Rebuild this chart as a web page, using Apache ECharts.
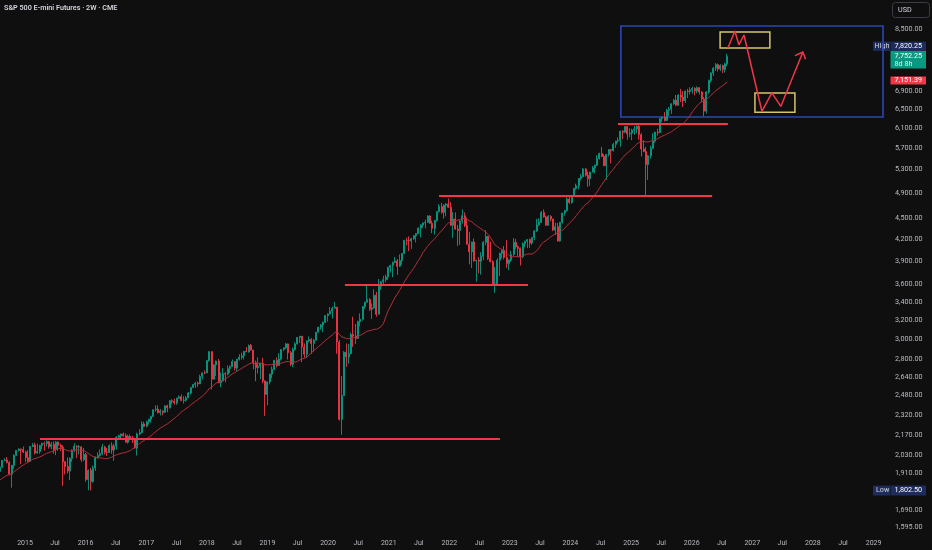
<!DOCTYPE html>
<html><head><meta charset="utf-8">
<script src="https://cdn.jsdelivr.net/npm/echarts@6/dist/echarts.min.js"></script>
<style>html,body{margin:0;padding:0;background:#0f0f0f;}#c{width:932px;height:550px;}</style>
</head><body><div id="c"></div>
<script>
// ---- data (2-week ES futures bars) ----
const firstBar = [2014, 8, 4];      // first visible bar
const barDays = 14;
const maPeriod = 20;
// closes of the 19 bars before the first visible bar (only feed the moving average)
const maWarmupCloses = [1800,1800,1815,1825,1833,1775,1834,1855,1836,1850,1810,1855,1872,1895,1945,1958,1980,1972,1922];
const firstOpen = 1922;
const closes = [
1950,1995,1998,1980,1905,1962,2030,2062,2073,2068,2052,
2013,1988,2090,2100,2045,2055,2098,2112,2110,2124,2088,2106,2070,2122,2098,2085,1985,1955,1925,2008,2065,2093,2086,2088,2000,2035,
1870,1930,1858,1945,2015,2028,2040,2087,2050,2048,2096,2065,2094,2155,2168,2180,2167,2120,2162,2150,2138,2080,2180,2190,2255,2236,
2272,2290,2312,2365,2370,2342,2355,2345,2396,2380,2438,2432,2420,2458,2470,2440,2442,2462,2502,2548,2574,2587,2580,2645,2677,2676,
2790,2875,2620,2750,2785,2590,2605,2670,2665,2715,2735,2780,2720,2802,2820,2835,2877,2872,2935,2890,2770,2725,2740,2765,2605,2490,
2597,2665,2710,2793,2745,2805,2896,2912,2950,2865,2755,2895,2950,3015,3028,2920,2850,2980,2995,2955,2987,3068,3120,3145,3172,3245,
3263,3293,3325,3338,2970,2290,2480,2870,2825,2855,3045,3030,3005,3180,3205,3345,3395,3425,3315,3330,3475,3260,3580,3635,3660,3695,3815,
3840,3880,3900,3830,3905,4000,4180,4175,4170,4200,4245,4275,4355,4400,4430,4440,4535,4425,4350,4465,4600,4680,4590,4705,4720,4670,
4395,4490,4340,4320,4460,4540,4390,4125,4020,4155,3900,3910,3895,3960,4150,4235,3930,3890,3610,3610,3910,4000,4040,3945,3865,3910,
3985,4150,4090,4065,3955,4130,4165,4190,4140,4220,4310,4400,4440,4590,4520,4395,4530,4490,4325,4375,4170,4440,4580,4615,4800,4745,
4860,4975,5020,5145,5175,5310,5200,5140,5255,5330,5375,5500,5595,5540,5370,5575,5670,5650,5770,5835,5845,6030,6010,6125,5975,5990,
6050,6075,6130,5960,5680,5630,5390,5550,5690,5830,6010,6000,6290,6320,6250,6470,6490,6610,6690,6580,6810,6760,6680,6900,6890,6930,
6960,6900,6980,6880,6720,6450,6880,7150,7330,7450,7540,7430,7520,7420,7560,7752.25];
const highs = [
1960,1995,2010,2017,1990,1965,2035,2065,2078,2075,2090,
2060,2065,2093,2115,2117,2110,2102,2117,2125,2134,2130,2122,2125,2128,2125,2110,2100,1990,2015,2015,2070,2113,2097,2100,2090,2080,
2045,1935,1945,1960,2020,2050,2070,2108,2095,2080,2105,2120,2110,2165,2175,2183,2190,2185,2175,2175,2165,2150,2190,2215,2275,2272,
2280,2295,2318,2368,2400,2400,2370,2360,2400,2405,2442,2450,2455,2462,2482,2490,2475,2475,2510,2550,2575,2595,2600,2660,2680,2700,
2790,2878,2875,2755,2790,2805,2680,2720,2685,2745,2745,2800,2785,2805,2850,2865,2880,2920,2945,2950,2890,2790,2820,2770,2815,2610,
2600,2670,2735,2795,2820,2860,2900,2915,2960,2955,2880,2915,2965,3020,3030,3030,2955,2985,3025,3010,3000,3070,3125,3155,3180,3250,
3270,3340,3345,3397,3340,2990,2650,2880,2955,2950,3065,3233,3155,3190,3270,3350,3400,3588,3440,3380,3545,3515,3670,3640,3710,3725,3825,
3850,3890,3950,3925,3985,4000,4185,4215,4235,4215,4250,4280,4360,4410,4435,4480,4545,4545,4465,4475,4610,4720,4740,4715,4740,4808,
4750,4595,4590,4400,4470,4635,4590,4510,4300,4160,4205,3910,3950,4015,4170,4325,4240,4160,3910,3820,3935,4010,4055,4100,4180,3920,
4035,4210,4200,4110,4080,4150,4175,4195,4205,4225,4325,4490,4500,4610,4635,4540,4550,4545,4490,4435,4430,4445,4585,4630,4830,4850,
4865,4985,5055,5150,5225,5325,5325,5265,5260,5365,5390,5560,5610,5720,5580,5580,5675,5670,5800,5840,5905,6040,6050,6130,6140,6090,
6080,6140,6150,6166,5990,5850,5720,5570,5740,5990,6020,6080,6300,6335,6430,6500,6540,6620,6720,6810,6830,6950,6900,6910,6950,6990,
7000,6990,7010,6990,6900,6760,6900,7170,7350,7480,7580,7570,7550,7540,7590,7820.25];
const lows = [
1900,1945,1990,1975,1900,1820,1940,2025,2055,1970,2045,
1985,1985,1985,2085,2035,2040,2040,2070,2060,2090,2075,2070,2040,2030,2060,2060,1831,1903,1910,1867,1985,2050,2010,2035,1985,1990,
1857,1804,1802.5,1850,1925,2005,2020,2030,2035,2025,2045,2040,1992,2070,2145,2145,2160,2120,2110,2135,2115,2075,2028,2170,2185,2230,
2230,2250,2265,2310,2350,2335,2320,2321,2340,2345,2375,2410,2405,2405,2455,2435,2415,2430,2460,2490,2545,2545,2555,2578,2620,2665,
2680,2780,2533,2620,2650,2585,2550,2600,2595,2655,2675,2730,2700,2695,2790,2800,2800,2870,2865,2885,2710,2603,2670,2620,2585,2317,
2400,2575,2630,2700,2725,2740,2790,2880,2900,2800,2740,2730,2885,2945,2960,2775,2818,2815,2965,2855,2875,2985,3065,3095,3070,3165,
3180,3260,3212,3325,2855,2280,2174,2480,2730,2760,2850,2920,2950,3005,3130,3190,3320,3390,3295,3209,3320,3233,3260,3540,3610,3630,3660,
3750,3690,3870,3720,3820,3850,3990,4110,4030,4060,4185,4150,4270,4220,4360,4350,4430,4420,4280,4260,4450,4590,4570,4495,4530,4660,
4390,4212,4330,4101,4115,4420,4370,4120,3855,3807,3890,3636,3740,3725,3910,4110,3910,3880,3610,3502,3600,3705,3935,3920,3810,3780,
3885,3960,4060,3950,3840,3935,4080,4070,4075,4115,4180,4300,4390,4430,4510,4390,4390,4455,4310,4255,4160,4160,4420,4540,4600,4725,
4725,4845,4950,4960,5110,5165,5175,5000,5015,5250,5235,5365,5480,5535,5360,5120,5535,5410,5630,5700,5800,5720,5870,5990,5860,5910,
5850,5960,5990,5860,5540,5620,4832,5120,5500,5690,5800,5940,5990,6220,6230,6240,6350,6390,6590,6560,6570,6650,6540,6630,6740,6820,
6840,6800,6850,6820,6650,6340,6400,6840,7100,7260,7380,7370,7380,7330,7340,7500];

// price-scale tick labels and time-axis label years
const yTickLabels = [8500,6900,6500,6100,5700,5300,4900,4500,4200,3900,3600,3400,3200,3000,2800,2640,2480,2320,2170,2030,1910,1690,1595];
const xLabelYears = [2015,2016,2017,2018,2019,2020,2021,2022,2023,2024,2025,2026,2027,2028,2029];

// badge values
const lastPrice = 7752.25, highPrice = 7820.25, lowPrice = 1802.50, maLastValue = 7151.39;
const barCountdown = '8d 8h';

// drawings: support lines [start, end, price]
const supportLines = [
  ['2015-04-01','2022-11-02',2144],
  ['2020-04-12','2023-04-20',3596],
  ['2021-10-31','2026-05-04',4850],
  ['2024-10-13','2026-08-07',6191]
];
const blueBox = [['2024-10-31',8586],['2029-02-27',6324]];
const yellowBoxes = [
  [['2026-06-21',8415],['2027-04-17',7974]],
  [['2027-01-17',6858],['2027-09-15',6425]]
];
const zigzagPath = [['2026-08-07',7974],['2026-09-18',8443],['2026-10-12',8061],['2026-11-12',8330],
  ['2027-02-28',6447],['2027-04-29',6858],['2027-06-22',6553],['2027-11-02',7868]];
const arrowHead = [['2027-09-15',7771],['2027-11-02',7868],['2027-11-18',7677]];

// ---- build ----
function t(s){ const p=s.split('-').map(Number); return new Date(p[0],p[1]-1,p[2]).getTime(); }
function barTime(i){ return new Date(firstBar[0], firstBar[1]-1, firstBar[2] + barDays*i).getTime(); }
const N = Math.min(closes.length, highs.length, lows.length);
const candles = [];
for (let i=0;i<N;i++){
  const o = i===0 ? firstOpen : closes[i-1];
  const c = closes[i];
  candles.push([barTime(i), o, c, Math.min(lows[i],o,c), Math.max(highs[i],o,c)]);
}
const allCloses = maWarmupCloses.concat(closes.slice(0,N));
const maData = [];
for (let i=0;i<N;i++){
  const j = i + maWarmupCloses.length;
  if (j - maPeriod + 1 < 0) continue;
  let s=0; for(let k=j-maPeriod+1;k<=j;k++) s+=allCloses[k];
  maData.push([barTime(i), s/maPeriod]);
}
const xTicks = [];
xLabelYears.forEach(y=>{ xTicks.push(new Date(y,0,1).getTime()); if (y<2029) xTicks.push(new Date(y,6,1).getTime()); });
const fmt = v => Number(v).toLocaleString('en-US',{minimumFractionDigits:2,maximumFractionDigits:2});
const conv = pts => pts.map(p=>[t(p[0]), p[1]]);

const FONT = 'Roboto, "Noto Sans", sans-serif';
const LBL = '#b8bbc3';
const chart = echarts.init(document.getElementById('c'), null, {renderer:'canvas'});
chart.setOption({
  backgroundColor:'#0f0f0f',
  animation:false,
  grid:{left:0,right:43,top:0,bottom:16,containLabel:false,outerBoundsMode:'none'},
  xAxis:{type:'value',min:t('2014-08-03'),max:t('2029-04-04'),scale:true,
    axisLine:{show:false},axisTick:{show:false},splitLine:{show:false},
    axisLabel:{customValues:xTicks,color:LBL,fontSize:7,fontFamily:FONT,margin:6,hideOverlap:false,
      formatter:v=>{const d=new Date(v);return d.getMonth()===0?String(d.getFullYear()):'Jul';}}},
  yAxis:{type:'log',position:'right',min:1557.7,max:9370,
    axisLine:{show:false},axisTick:{show:false},splitLine:{show:false},
    axisLabel:{customValues:yTickLabels,color:LBL,fontSize:7.2,fontFamily:FONT,margin:6,align:'left',formatter:v=>fmt(v)}},
  series:[
    {type:'candlestick',data:candles,encode:{x:0,y:[1,2,3,4]},barWidth:1.5,silent:true,
      itemStyle:{color:'#089981',color0:'#f23645',borderColor:'#089981',borderColor0:'#f23645',borderWidth:0.9},
      markLine:{silent:true,symbol:'none',label:{show:false},lineStyle:{color:'#f23645',width:2,type:'solid'},
        data:supportLines.map(l=>[{coord:[t(l[0]),l[2]]},{coord:[t(l[1]),l[2]]}])},
      markArea:{silent:true,label:{show:false},
        data:[[{coord:[t(blueBox[0][0]),blueBox[0][1]],itemStyle:{color:'rgba(0,0,0,0)',borderColor:'#2a47b3',borderWidth:1.6}},
               {coord:[t(blueBox[1][0]),blueBox[1][1]]}]]
          .concat(yellowBoxes.map(b=>[{coord:[t(b[0][0]),b[0][1]],itemStyle:{color:'rgba(0,0,0,0)',borderColor:'#d6c46c',borderWidth:1.5}},
               {coord:[t(b[1][0]),b[1][1]]}]))}
    },
    {type:'line',data:maData,showSymbol:false,symbol:'none',silent:true,lineStyle:{color:'#b3303b',width:1}},
    {type:'line',data:conv(zigzagPath),showSymbol:false,symbol:'none',silent:true,lineStyle:{color:'#f23645',width:1.5}},
    {type:'line',data:conv(arrowHead),showSymbol:false,symbol:'none',silent:true,lineStyle:{color:'#f23645',width:1.5}}
  ]
});

// ---- price-scale badges ----
const py = v => chart.convertToPixel({yAxisIndex:0}, v);
const BX = 890.5, BW = 35.5, TX = 894.5;
const txt = (x,y,s,fill,weight) => ({type:'text',x:x,y:y,silent:true,style:{text:s,fill:fill||'#ffffff',font:(weight||'normal')+' 7.2px '+FONT,verticalAlign:'middle',align:'left'}});
const rect = (x,y,w,h,fill) => ({type:'rect',silent:true,shape:{x:x,y:y,width:w,height:h},style:{fill:fill}});
const yCur = py(lastPrice), greenTop = yCur-5.5, greenH = 17.5;
const highTop = greenTop-9.3, highH = 9.3;
const yMa = py(maLastValue), yLow = py(lowPrice);
const NAVY = '#1d2c5c';
chart.setOption({graphic:[
  txt(4,8,'S&P 500 E-mini Futures · 2W · CME','#d1d4dc','600'),
  {type:'rect',silent:true,shape:{x:892.5,y:2.5,width:37,height:15,r:3},style:{fill:'#0f0f0f',stroke:'#3a3d45',lineWidth:1}},
  txt(898,10,'USD','#d1d4dc'),
  rect(873,highTop,17,highH,NAVY), txt(874.5,highTop+highH/2,'High','#d1d4dc'),
  rect(BX,highTop,BW,highH,NAVY), txt(TX,highTop+highH/2,fmt(highPrice),'#ffffff'),
  rect(BX,greenTop,BW,greenH,'#089981'), txt(TX,greenTop+5,fmt(lastPrice)), txt(TX,greenTop+13,barCountdown,'#d9f2ec'),
  rect(BX,yMa-4,BW,8,'#f23645'), txt(TX,yMa,fmt(maLastValue)),
  rect(873,yLow-5,17,10,NAVY), txt(876,yLow,'Low','#d1d4dc'),
  rect(BX,yLow-5,BW,10,NAVY), txt(TX,yLow,fmt(lowPrice),'#ffffff')
]});
</script></body></html>
